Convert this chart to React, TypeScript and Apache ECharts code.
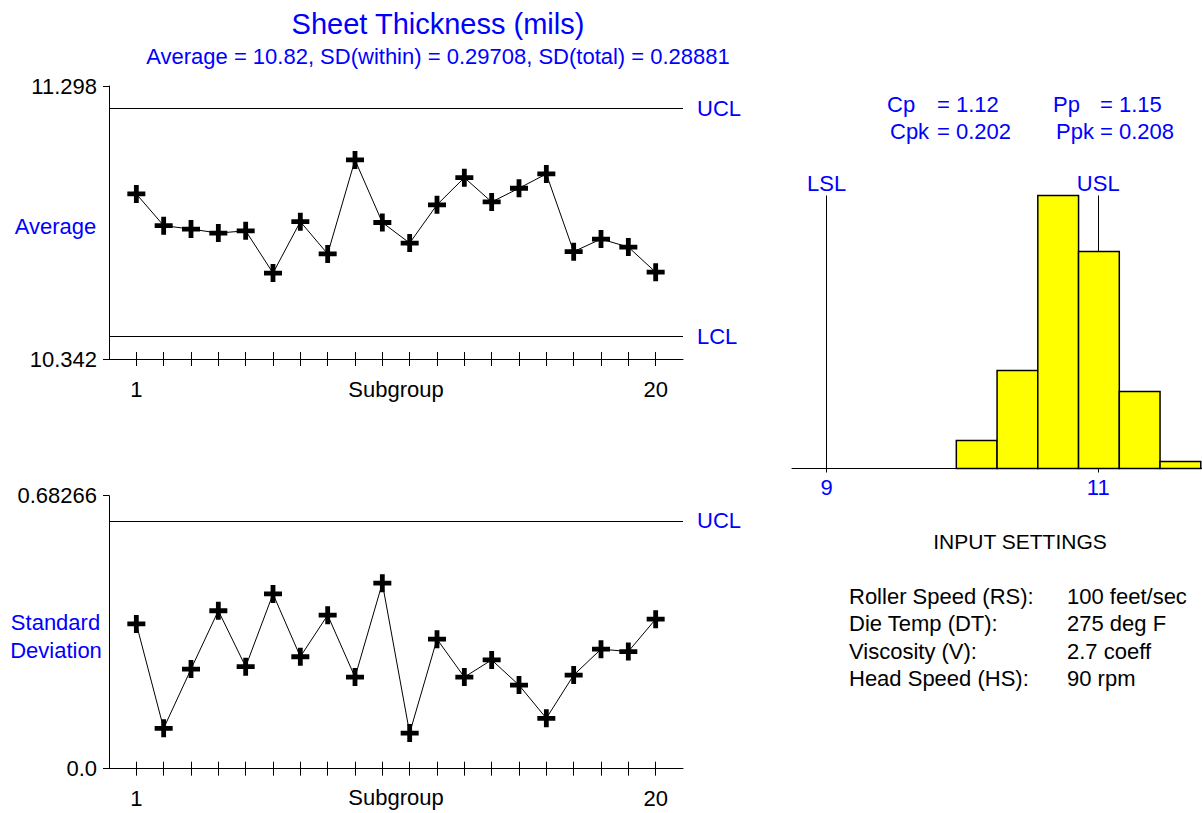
import React, { useEffect, useRef } from 'react';
import * as echarts from 'echarts';

// ---------- data ----------
const subgroups = [1, 2, 3, 4, 5, 6, 7, 8, 9, 10, 11, 12, 13, 14, 15, 16, 17, 18, 19, 20];
const averages = [10.920, 10.809, 10.797, 10.783, 10.791, 10.643, 10.823, 10.710, 11.039, 10.820,
  10.748, 10.882, 10.977, 10.892, 10.940, 10.990, 10.718, 10.762, 10.734, 10.646];
const stdDevs = [0.362, 0.101, 0.249, 0.395, 0.255, 0.437, 0.280, 0.384, 0.229, 0.464,
  0.089, 0.324, 0.229, 0.272, 0.209, 0.126, 0.234, 0.299, 0.293, 0.374];

const avgRange = [10.342, 11.298];
const avgLimitNames = ['UCL', 'LCL'];
const avgLimitValues = [11.219, 10.424];
const sdRange = [0, 0.68266];
const sdRangeLabels = ['0.0', '0.68266'];
const sdLimitNames = ['UCL'];
const sdLimitValues = [0.621];
const xTickLabelValues = [1, 20];

const binStarts = [9.955, 10.255, 10.555, 10.855, 11.155, 11.455];
const binWidth = 0.3;
const binCounts = [4, 14, 39, 31, 11, 1];
const specNames = ['LSL', 'USL'];
const specValues = [9, 11];

const capNames = ['Cp', 'Cpk', 'Pp', 'Ppk'];
const capValues = ['1.12', '0.202', '1.15', '0.208'];

const settingNames = ['Roller Speed (RS):', 'Die Temp (DT):', 'Viscosity (V):', 'Head Speed (HS):'];
const settingValues = ['100 feet/sec', '275 deg F', '2.7 coeff', '90 rpm'];

const titleText = 'Sheet Thickness (mils)';
const subtitleText = 'Average = 10.82, SD(within) = 0.29708, SD(total) = 0.28881';

// ---------- style ----------
const FONT = '"Liberation Sans", Arial, Helvetica, sans-serif';
const BLUE = '#0000ff';
const BLACK = '#000000';
const PLUS = 'path://M6.6,0L11.4,0L11.4,6.6L18,6.6L18,11.4L11.4,11.4L11.4,18L6.6,18L6.6,11.4L0,11.4L0,6.6L6.6,6.6Z';

function subgroupAxes(gridIndex: number, nameGap: number) {
  const outer = {
    type: 'value', gridIndex, position: 'bottom', min: 0, max: 21,
    axisLine: { show: true, onZero: false, lineStyle: { color: BLACK, width: 1 } },
    axisTick: { show: true, inside: false, length: 7, customValues: subgroups, lineStyle: { color: BLACK } },
    axisLabel: { show: true, customValues: xTickLabelValues, margin: 19, color: BLACK, fontSize: 22, fontFamily: FONT },
    splitLine: { show: false },
    name: 'Subgroup', nameLocation: 'middle', nameGap, nameMoveOverlap: false,
    nameTextStyle: { color: BLACK, fontSize: 22, fontFamily: FONT },
  };
  const inner = {
    type: 'value', gridIndex, position: 'bottom', min: 0, max: 21,
    axisLine: { show: false, onZero: false },
    axisTick: { show: true, inside: true, length: 7, customValues: subgroups, lineStyle: { color: BLACK } },
    axisLabel: { show: false },
    splitLine: { show: false },
  };
  return [outer, inner];
}

function text(t: string, x: number, y: number, color: string, size: number, align = 'left') {
  return {
    type: 'text', x, y, silent: true,
    style: { text: t, fill: color, font: `${size}px ${FONT}`, align, verticalAlign: 'middle' },
  };
}

export default function App() {
  const ref = useRef<HTMLDivElement>(null);

  useEffect(() => {
    if (!ref.current) return;
    const chart = echarts.init(ref.current, undefined, { renderer: 'svg' });

    const graphics: any[] = [];
    graphics.push(text(titleText, 438, 24, BLUE, 29, 'center'));
    graphics.push(text(subtitleText, 438, 56, BLUE, 22, 'center'));
    graphics.push(text('Average', 55.5, 226, BLUE, 22, 'center'));
    graphics.push(text('Standard', 55.5, 622, BLUE, 22, 'center'));
    graphics.push(text('Deviation', 56, 650, BLUE, 22, 'center'));

    const capNameX = [887, 890, 1053, 1056];
    const capEqX = [937, 937, 1100, 1100];
    const capY = [104, 131, 104, 131];
    capNames.forEach((n, i) => {
      graphics.push(text(n, capNameX[i], capY[i], BLUE, 22));
      graphics.push(text('= ' + capValues[i], capEqX[i], capY[i], BLUE, 22));
    });

    graphics.push(text('INPUT SETTINGS', 1020, 541, BLACK, 21, 'center'));
    settingNames.forEach((n, i) => {
      const y = 596 + i * 27.5;
      graphics.push(text(n, 849, y, BLACK, 22));
      graphics.push(text(settingValues[i], 1067, y, BLACK, 22));
    });

    const limitLabel = {
      show: true, position: 'end', formatter: '{b}', color: BLUE, fontSize: 22, fontFamily: FONT, distance: 14,
    };

    const option: any = {
      animation: false,
      backgroundColor: '#ffffff',
      grid: [
        { left: 109, top: 86, width: 574, height: 273, containLabel: false, outerBoundsMode: 'none' },
        { left: 109, top: 495.7, width: 574, height: 273, containLabel: false, outerBoundsMode: 'none' },
        { left: 792, top: 195.5, width: 410, height: 273, containLabel: false, outerBoundsMode: 'none' },
      ],
      xAxis: [
        ...subgroupAxes(0, 19),
        ...subgroupAxes(1, 18),
        {
          type: 'value', gridIndex: 2, position: 'bottom', min: 8.745, max: 11.764,
          axisLine: { show: true, onZero: false, lineStyle: { color: BLACK, width: 1 } },
          axisTick: { show: true, length: 4, customValues: specValues, lineStyle: { color: BLACK } },
          axisLabel: { show: true, customValues: specValues, margin: 8, color: BLUE, fontSize: 22, fontFamily: FONT },
          splitLine: { show: false },
        },
      ],
      yAxis: [
        {
          type: 'value', gridIndex: 0, min: avgRange[0], max: avgRange[1],
          axisLine: { show: true, lineStyle: { color: BLACK, width: 1 } },
          axisTick: { show: true, length: 6, customValues: avgRange, lineStyle: { color: BLACK } },
          axisLabel: {
            show: true, customValues: avgRange, margin: 12, color: BLACK, fontSize: 22, fontFamily: FONT,
            formatter: (v: number) => v.toFixed(3), padding: [6, 0, 0, 0],
          },
          splitLine: { show: false },
        },
        {
          type: 'value', gridIndex: 1, min: sdRange[0], max: sdRange[1],
          axisLine: { show: true, lineStyle: { color: BLACK, width: 1 } },
          axisTick: { show: true, length: 6, customValues: sdRange, lineStyle: { color: BLACK } },
          axisLabel: {
            show: true, customValues: sdRange, margin: 12, color: BLACK, fontSize: 22, fontFamily: FONT,
            formatter: (v: number) => sdRangeLabels[sdRange.indexOf(v)] ?? String(v), padding: [9, 0, 0, 0],
          },
          splitLine: { show: false },
        },
        { type: 'value', gridIndex: 2, min: 0, max: 39, show: false, splitLine: { show: false } },
      ],
      graphic: graphics,
      series: [
        {
          type: 'line', name: 'Average', xAxisIndex: 0, yAxisIndex: 0,
          data: subgroups.map((s, i) => [s, averages[i]]),
          symbol: PLUS, symbolSize: 18, showAllSymbol: true,
          itemStyle: { color: BLACK }, lineStyle: { color: BLACK, width: 1 },
          emphasis: { disabled: true }, silent: true, z: 3,
          markLine: {
            silent: true, symbol: ['none', 'none'], animation: false,
            lineStyle: { color: BLACK, width: 1, type: 'solid' },
            label: limitLabel, emphasis: { disabled: true },
            data: avgLimitNames.map((n, i) => ({ name: n, yAxis: avgLimitValues[i] })),
          },
        },
        {
          type: 'line', name: 'Standard Deviation', xAxisIndex: 2, yAxisIndex: 1,
          data: subgroups.map((s, i) => [s, stdDevs[i]]),
          symbol: PLUS, symbolSize: 18, showAllSymbol: true,
          itemStyle: { color: BLACK }, lineStyle: { color: BLACK, width: 1 },
          emphasis: { disabled: true }, silent: true, z: 3,
          markLine: {
            silent: true, symbol: ['none', 'none'], animation: false,
            lineStyle: { color: BLACK, width: 1, type: 'solid' },
            label: limitLabel, emphasis: { disabled: true },
            data: sdLimitNames.map((n, i) => ({ name: n, yAxis: sdLimitValues[i] })),
          },
        },
        {
          type: 'line', name: 'spec', xAxisIndex: 4, yAxisIndex: 2, data: [], z: 1, silent: true,
          markLine: {
            z: 1, silent: true, symbol: ['none', 'none'], animation: false,
            lineStyle: { color: BLACK, width: 1, type: 'solid' },
            label: { show: true, position: 'end', formatter: '{b}', color: BLUE, fontSize: 22, fontFamily: FONT, distance: 1 },
            emphasis: { disabled: true },
            data: specNames.map((n, i) => ({ name: n, xAxis: specValues[i] })),
          },
        },
        {
          type: 'custom', name: 'Histogram', xAxisIndex: 4, yAxisIndex: 2, z: 5, silent: true, clip: false,
          data: binStarts.map((s, i) => [s, s + binWidth, binCounts[i]]),
          renderItem: (_p: any, api: any) => {
            const p0 = api.coord([api.value(0), 0]);
            const p1 = api.coord([api.value(1), api.value(2)]);
            return {
              type: 'rect',
              shape: { x: p0[0], y: p1[1], width: p1[0] - p0[0], height: p0[1] - p1[1] },
              style: { fill: '#ffff00', stroke: BLACK, lineWidth: 1.5 },
            };
          },
        },
      ],
    };

    chart.setOption(option);
    return () => chart.dispose();
  }, []);

  return (
    <div
      ref={ref}
      style={{ position: 'absolute', left: 0, top: 0, width: 1202, height: 813, background: '#fff' }}
    />
  );
}
